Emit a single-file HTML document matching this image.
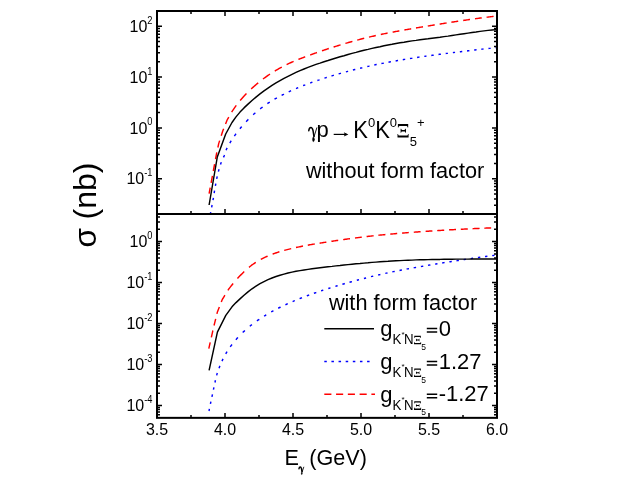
<!DOCTYPE html>
<html><head><meta charset="utf-8"><title>chart</title>
<style>html,body{margin:0;padding:0;background:#fff;}svg{display:block;will-change:transform;}text{font-family:"Liberation Sans",sans-serif;fill:#000;}.s{font-family:"Liberation Serif",serif;}</style>
</head><body>
<svg width="623" height="485" viewBox="0 0 623 485">
<rect x="0" y="0" width="623" height="485" fill="#fff"/>
<defs><clipPath id="ct"><rect x="157" y="11" width="340" height="203"/></clipPath><clipPath id="cb"><rect x="157" y="214" width="340" height="204"/></clipPath></defs>
<g fill="none" stroke-width="1.45" stroke-linejoin="round" clip-path="url(#ct)">
<path d="M209.10 221.00L209.28 220.01L209.43 219.22M210.30 214.48L210.48 213.49L210.66 212.50L210.74 212.10M211.65 207.37L211.84 206.38L212.02 205.39L212.10 205.00M212.99 200.20L213.18 199.20L213.36 198.20L213.43 197.80M214.16 193.07L214.32 192.08L214.47 191.10L214.54 190.70M215.38 185.97L215.56 184.99L215.74 184.00L215.81 183.60M216.70 178.80L216.89 177.80L217.10 176.81L217.20 176.41M218.40 171.68L218.65 170.69L218.92 169.71L219.04 169.31M220.51 164.58L220.82 163.59L221.18 162.60L221.35 162.20M223.48 157.40L223.92 156.40L224.31 155.41L224.45 155.01M226.11 150.28L226.46 149.29L226.92 148.32L227.14 147.93M229.84 143.06L230.38 142.09L230.99 141.12L231.25 140.73M234.39 136.06L235.04 135.08L235.76 134.10L236.07 133.71M239.93 128.78L240.70 127.80L241.58 126.81L241.75 126.62M246.15 121.70L247.02 120.72L247.98 119.77L248.37 119.39M253.22 114.71L254.20 113.80L255.20 112.97L255.40 112.81M260.20 108.85L261.20 108.02L262.20 107.32L262.60 107.04M267.40 103.66L268.40 102.96L269.39 102.35L269.78 102.11M274.51 99.22L275.50 98.61L276.49 98.08L276.88 97.87M281.61 95.31L282.60 94.77L283.59 94.30L283.98 94.10M288.71 91.81L289.70 91.34L290.68 90.90L291.08 90.73M296.01 88.55L296.99 88.13L297.98 87.74L298.18 87.66M303.11 85.67L304.10 85.27L305.08 84.91L305.28 84.83M310.21 82.99L311.20 82.63L312.20 82.28L312.40 82.21M317.40 80.48L318.40 80.13L319.37 79.82L319.57 79.75M324.44 78.17L325.41 77.86L326.39 77.55L326.79 77.43M331.52 75.98L332.51 75.68L333.49 75.39L333.89 75.27M338.62 73.90L339.61 73.61L340.59 73.33L340.98 73.22M345.91 71.86L346.90 71.59L347.90 71.34L348.10 71.29M352.90 70.06L353.90 69.80L354.90 69.54L355.30 69.44M360.10 68.21L361.10 67.97L362.10 67.75L362.30 67.70M367.30 66.57L368.30 66.35L369.30 66.12L369.50 66.08M374.30 64.99L375.29 64.78L376.28 64.58L376.67 64.51M381.41 63.58L382.39 63.38L383.38 63.19L383.77 63.11M388.51 62.18L389.50 61.99L390.49 61.82L390.89 61.75M395.65 60.92L396.65 60.75L397.64 60.58L398.04 60.51M402.80 59.68L403.80 59.52L404.79 59.36L405.19 59.30M409.95 58.56L410.95 58.40L411.94 58.25L412.34 58.18M417.10 57.44L418.10 57.29L419.10 57.15L419.50 57.09M424.30 56.39L425.30 56.25L426.30 56.12L426.50 56.09M431.30 55.44L432.30 55.31L433.30 55.17L433.70 55.12M438.50 54.47L439.50 54.34L440.50 54.20L440.90 54.15M445.70 53.50L446.70 53.38L447.69 53.26L447.89 53.23M452.87 52.63L453.87 52.51L454.86 52.39L455.06 52.36M459.84 51.78L460.84 51.66L461.84 51.54L462.24 51.49M467.02 50.91L468.01 50.79L469.01 50.66L469.41 50.62M474.18 50.06L475.17 49.95L476.16 49.84L476.56 49.80M481.32 49.26L482.31 49.15L483.31 49.04L483.51 49.02M488.47 48.46L489.46 48.35L490.45 48.24L490.65 48.21M495.61 47.66L496.60 47.55L497.00 47.50" stroke="#00f"/>
<path d="M209.10 193.60L209.29 192.60L209.47 191.60L209.66 190.60L209.85 189.60L210.03 188.60L210.22 187.60M211.12 182.80L211.31 181.80L211.49 180.80L211.68 179.80L211.87 178.80L212.05 177.80L212.24 176.80L212.43 175.80M213.32 171.00L213.51 170.00L213.70 169.00L213.88 168.00L214.07 167.00L214.26 166.00L214.45 165.00L214.59 164.20M215.53 159.20L215.72 158.20L215.90 157.20L216.09 156.20L216.28 155.20L216.46 154.20L216.65 153.20L216.80 152.40M217.86 147.51L218.07 146.53L218.28 145.56L218.49 144.58L218.70 143.60L219.02 142.61L219.33 141.62L219.65 140.62M221.24 135.66L221.56 134.67L221.87 133.68L222.19 132.69L222.51 131.70L222.86 130.70L223.26 129.71L223.65 128.72M225.56 123.96L225.95 122.97L226.35 121.98L226.74 120.99L227.14 120.00L227.64 119.01L228.22 118.02L228.79 117.03M231.66 112.07L232.28 111.08L232.97 110.09L233.66 109.10L234.34 108.11L235.03 107.12L235.72 106.13L236.31 105.34M240.17 100.42L241.04 99.43L241.91 98.43L242.78 97.44L243.65 96.44L244.57 95.46L245.52 94.47L246.48 93.49M251.20 88.89L252.20 87.95L253.20 87.08L254.20 86.20L255.20 85.33L256.20 84.46L257.20 83.64L258.20 82.82M263.00 79.05L264.00 78.28L265.00 77.57L266.00 76.86L267.00 76.14L268.00 75.43L269.00 74.76L270.00 74.10M274.80 71.04L275.80 70.42L276.80 69.84L277.80 69.26L278.80 68.69L279.80 68.12L280.80 67.58L281.80 67.04M286.60 64.59L287.60 64.10L288.60 63.63L289.60 63.18L290.60 62.72L291.60 62.27L292.60 61.83L293.60 61.41M298.40 59.42L299.40 59.02L300.40 58.63L301.40 58.24L302.40 57.86L303.40 57.47L304.40 57.09L305.20 56.80M310.20 54.95L311.20 54.59L312.20 54.22L313.20 53.87L314.20 53.51L315.20 53.16L316.20 52.81L317.00 52.53M322.00 50.81L323.00 50.47L324.00 50.13L325.00 49.80L326.00 49.47L327.00 49.14L328.00 48.81L328.80 48.55M333.60 47.02L334.60 46.70L335.60 46.39L336.60 46.08L337.60 45.77L338.60 45.46L339.60 45.16L340.60 44.85M345.40 43.42L346.40 43.13L347.40 42.84L348.40 42.55L349.40 42.27L350.40 41.98L351.40 41.70L352.40 41.42M357.20 40.11L358.20 39.84L359.20 39.58L360.20 39.31L361.20 39.06L362.20 38.80L363.20 38.54L364.20 38.29M369.00 37.11L370.00 36.88L371.00 36.64L372.00 36.40L373.00 36.18L374.00 35.95L375.00 35.72L375.80 35.54M380.80 34.46L381.80 34.25L382.80 34.04L383.80 33.84L384.80 33.63L385.80 33.43L386.80 33.24L387.60 33.08M392.60 32.11L393.60 31.93L394.60 31.74L395.60 31.56L396.60 31.37L397.60 31.19L398.60 31.01L399.40 30.86M404.40 29.97L405.40 29.80L406.40 29.63L407.40 29.45L408.40 29.28L409.40 29.11L410.40 28.93L411.20 28.80M416.00 27.98L417.00 27.81L418.00 27.64L419.00 27.47L420.00 27.30L421.00 27.14L422.00 26.97L423.00 26.80M427.80 26.01L428.80 25.84L429.80 25.68L430.80 25.52L431.80 25.35L432.80 25.19L433.80 25.03L434.80 24.87M439.60 24.10L440.60 23.94L441.60 23.78L442.60 23.62L443.60 23.46L444.60 23.30L445.60 23.15L446.60 22.99M451.40 22.24L452.40 22.09L453.40 21.93L454.40 21.78L455.40 21.63L456.40 21.47L457.40 21.32L458.20 21.20M463.20 20.46L464.20 20.31L465.20 20.16L466.20 20.02L467.20 19.87L468.20 19.73L469.20 19.59L470.00 19.47M475.00 18.77L476.00 18.63L477.00 18.50L478.00 18.36L479.00 18.23L480.00 18.09L481.00 17.96L481.80 17.85M486.60 17.23L487.60 17.10L488.60 16.98L489.60 16.85L490.60 16.73L491.60 16.61L492.60 16.48L493.60 16.36" stroke="#f00"/>
<polyline points="209.1,205.0 217.3,157.0 225.7,134.0 232.0,122.5 236.0,116.9 240.0,112.1 244.0,107.9 248.0,104.1 252.0,100.5 256.0,97.1 260.0,93.9 264.0,90.9 268.0,88.1 272.0,85.4 276.0,82.9 280.0,80.6 284.0,78.3 288.0,76.3 292.0,74.3 296.0,72.4 300.0,70.6 304.0,69.0 308.0,67.4 312.0,65.9 316.0,64.4 320.0,63.1 324.0,61.7 328.0,60.5 332.0,59.2 336.0,58.0 340.0,56.8 344.0,55.7 348.0,54.5 352.0,53.4 356.0,52.4 360.0,51.3 364.0,50.3 368.0,49.4 372.0,48.4 376.0,47.5 380.0,46.7 384.0,45.8 388.0,45.0 392.0,44.3 396.0,43.5 400.0,42.8 404.0,42.2 408.0,41.5 412.0,40.9 416.0,40.4 420.0,39.8 424.0,39.3 428.0,38.8 432.0,38.2 436.0,37.7 440.0,37.2 444.0,36.6 448.0,36.1 452.0,35.5 456.0,34.9 460.0,34.3 464.0,33.7 468.0,33.1 472.0,32.5 476.0,32.0 480.0,31.4 484.0,30.9 488.0,30.4 492.0,30.0 496.0,29.6 497.0,29.5" stroke="#000"/>
</g>
<g fill="none" stroke-width="1.45" stroke-linejoin="round" clip-path="url(#cb)">
<path d="M209.00 411.00L209.17 410.11L209.34 409.20L209.42 408.80M210.44 403.80L210.64 402.80L210.84 401.80L210.89 401.60M211.92 396.80L212.14 395.80L212.36 394.80L212.44 394.40M213.44 389.67L213.65 388.68L213.86 387.70L213.94 387.30M214.97 382.50L215.19 381.50L215.40 380.50L215.45 380.30M216.66 375.37L216.91 374.39L217.17 373.40L217.31 373.01M219.03 368.28L219.39 367.29L219.77 366.30L219.94 365.90M222.01 361.10L222.44 360.10L222.92 359.10L223.03 358.90M225.74 353.90L226.28 352.90L226.90 351.90L227.04 351.70M230.26 346.90L230.93 345.90L231.68 344.91L232.01 344.52M235.87 339.82L236.68 338.84L237.57 337.85L237.95 337.46M242.73 332.53L243.69 331.60L244.68 330.74L244.88 330.57M249.81 326.29L250.80 325.45L251.78 324.72L251.98 324.57M256.91 320.90L257.90 320.19L258.90 319.54L259.30 319.28M264.10 316.14L265.09 315.52L266.08 314.94L266.28 314.83M271.21 311.96L272.20 311.40L273.20 310.87L273.40 310.77M278.20 308.25L279.20 307.73L280.20 307.25L280.60 307.06M285.40 304.76L286.40 304.28L287.37 303.85L287.76 303.68M292.63 301.54L293.60 301.11L294.60 300.70L294.80 300.62M299.60 298.66L300.60 298.25L301.60 297.87L302.00 297.71M306.80 295.88L307.80 295.50L308.79 295.14L309.18 295.00M313.92 293.30L314.91 292.95L315.90 292.60L316.30 292.47M321.10 290.84L322.10 290.51L323.10 290.18L323.30 290.11M328.30 288.51L329.30 288.19L330.29 287.88L330.49 287.82M335.42 286.32L336.41 286.01L337.40 285.72L337.60 285.66M342.40 284.26L343.40 283.97L344.39 283.68L344.79 283.57M349.52 282.25L350.51 281.98L351.49 281.70L351.89 281.60M356.82 280.28L357.80 280.01L358.79 279.75L358.99 279.70M363.92 278.43L364.90 278.18L365.89 277.93L366.09 277.88M371.01 276.66L372.00 276.42L373.00 276.18L373.20 276.13M378.20 274.96L379.20 274.72L380.19 274.50L380.39 274.45M385.32 273.35L386.30 273.13L387.30 272.92L387.50 272.88M392.30 271.87L393.30 271.66L394.30 271.46L394.70 271.38M399.50 270.43L400.50 270.23L401.49 270.04L401.89 269.96M406.62 269.07L407.61 268.89L408.59 268.71L408.98 268.64M413.71 267.78L414.70 267.61L415.70 267.43L416.10 267.36M420.90 266.53L421.89 266.35L422.88 266.19L423.27 266.12M428.01 265.31L428.99 265.15L429.98 264.98L430.37 264.92M435.11 264.13L436.09 263.97L437.08 263.81L437.47 263.74M442.21 262.97L443.20 262.81L444.20 262.65L444.60 262.59M449.40 261.83L450.39 261.67L451.38 261.52L451.78 261.46M456.51 260.72L457.50 260.57L458.48 260.42L458.88 260.36M463.61 259.65L464.60 259.50L465.58 259.36L465.98 259.30M470.71 258.60L471.70 258.46L472.70 258.32L473.10 258.26M477.90 257.58L478.90 257.44L479.88 257.30L480.28 257.24M485.01 256.59L486.00 256.45L487.00 256.32L487.40 256.27M492.20 255.62L493.20 255.49L494.15 255.36L494.53 255.32" stroke="#00f"/>
<path d="M208.80 348.70L209.02 347.70L209.25 346.70L209.47 345.70L209.70 344.70L209.92 343.70L210.14 342.70L210.23 342.30M211.35 337.30L211.58 336.30L211.80 335.30L212.02 334.30L212.25 333.30L212.47 332.30L212.69 331.30L212.87 330.50M214.04 325.53L214.28 324.54L214.52 323.55L214.77 322.56L215.01 321.58L215.25 320.59L215.50 319.60L215.69 318.81M216.91 313.88L217.16 312.89L217.40 311.90L217.79 310.91L218.18 309.92L218.57 308.92L218.96 307.93L219.34 306.94M221.29 301.98L221.68 300.99L222.07 300.00L222.54 299.00L223.15 298.01L223.76 297.02L224.37 296.03L224.86 295.24M227.91 290.29L228.55 289.31L229.30 288.34L230.05 287.38L230.80 286.41L231.55 285.45L232.33 284.47L233.17 283.48M237.45 278.54L238.36 277.55L239.27 276.57L240.19 275.58L241.14 274.62L242.10 273.66L243.05 272.71L244.00 271.75L244.20 271.56M249.00 267.32L250.00 266.53L251.00 265.73L252.00 264.94L253.00 264.26L254.00 263.58L255.00 262.89L255.80 262.35M260.80 259.43L261.80 258.91L262.80 258.39L263.80 257.87L264.80 257.41L265.80 256.95L266.80 256.49L267.60 256.13M272.60 254.12L273.60 253.75L274.60 253.39L275.60 253.03L276.60 252.70L277.60 252.37L278.60 252.05L279.40 251.79M284.20 250.38L285.20 250.12L286.20 249.85L287.20 249.59L288.20 249.33L289.20 249.08L290.20 248.84L291.20 248.60M296.00 247.51L297.00 247.30L298.00 247.09L299.00 246.88L300.00 246.67L301.00 246.47L302.00 246.28L303.00 246.08M307.80 245.18L308.80 245.00L309.80 244.82L310.80 244.65L311.80 244.47L312.80 244.30L313.80 244.13L314.80 243.96M319.60 243.17L320.60 243.01L321.60 242.85L322.60 242.69L323.60 242.53L324.60 242.37L325.60 242.22L326.40 242.10M331.40 241.33L332.40 241.18L333.40 241.03L334.40 240.88L335.40 240.73L336.40 240.59L337.40 240.44L338.20 240.32M343.20 239.60L344.20 239.46L345.20 239.32L346.20 239.18L347.20 239.04L348.20 238.90L349.20 238.77L350.00 238.66M355.00 237.99L356.00 237.86L357.00 237.73L358.00 237.61L359.00 237.48L360.00 237.35L361.00 237.23L361.80 237.13M366.60 236.56L367.60 236.44L368.60 236.32L369.60 236.21L370.60 236.10L371.60 235.99L372.60 235.87L373.60 235.77M378.40 235.26L379.40 235.15L380.40 235.05L381.40 234.95L382.40 234.86L383.40 234.76L384.40 234.66L385.40 234.57M390.20 234.12L391.20 234.03L392.20 233.94L393.20 233.85L394.20 233.77L395.20 233.68L396.20 233.59L397.20 233.51M402.00 233.11L403.00 233.03L404.00 232.95L405.00 232.87L406.00 232.79L407.00 232.71L408.00 232.64L408.80 232.58M413.80 232.20L414.80 232.12L415.80 232.05L416.80 231.98L417.80 231.91L418.80 231.83L419.80 231.76L420.60 231.71M425.60 231.36L426.60 231.29L427.60 231.22L428.60 231.16L429.60 231.09L430.60 231.03L431.60 230.96L432.40 230.91M437.20 230.60L438.20 230.54L439.20 230.48L440.20 230.42L441.20 230.36L442.20 230.30L443.20 230.24L444.20 230.18M449.00 229.90L450.00 229.84L451.00 229.79L452.00 229.73L453.00 229.68L454.00 229.62L455.00 229.57L456.00 229.51M460.80 229.26L461.80 229.21L462.80 229.16L463.80 229.11L464.80 229.06L465.80 229.01L466.80 228.96L467.80 228.91M472.60 228.68L473.60 228.63L474.60 228.59L475.60 228.54L476.60 228.50L477.60 228.45L478.60 228.41L479.60 228.36M484.40 228.16L485.40 228.12L486.40 228.08L487.40 228.04L488.40 228.00L489.40 227.96L490.40 227.92L491.20 227.88M496.20 227.69L497.00 227.66" stroke="#f00"/>
<polyline points="209.1,370.3 217.4,332.1 225.8,315.4 232.0,306.8 236.0,302.6 240.0,298.9 244.0,295.3 248.0,291.9 252.0,288.8 256.0,286.1 260.0,283.7 264.0,281.6 268.0,279.7 272.0,278.0 276.0,276.5 280.0,275.2 284.0,274.1 288.0,273.0 292.0,272.1 296.0,271.3 300.0,270.6 304.0,270.0 308.0,269.4 312.0,268.8 316.0,268.3 320.0,267.8 324.0,267.3 328.0,266.8 332.0,266.4 336.0,265.9 340.0,265.5 344.0,265.0 348.0,264.6 352.0,264.2 356.0,263.8 360.0,263.5 364.0,263.1 368.0,262.8 372.0,262.4 376.0,262.1 380.0,261.8 384.0,261.5 388.0,261.3 392.0,261.0 396.0,260.8 400.0,260.6 404.0,260.4 408.0,260.2 412.0,260.1 416.0,259.9 420.0,259.8 424.0,259.7 428.0,259.6 432.0,259.5 436.0,259.4 440.0,259.4 444.0,259.3 448.0,259.2 452.0,259.2 456.0,259.1 460.0,259.1 464.0,259.1 468.0,259.1 472.0,259.0 476.0,259.0 480.0,259.0 484.0,259.0 488.0,259.0 492.0,259.0 496.0,259.0 497.0,259.0" stroke="#000"/>
</g>
<path d="M157.0 11.0v5.0M157.0 214.0v-5.0M157.0 418.0v-5.0M191.0 11.0v3.0M191.0 214.0v-3.0M191.0 418.0v-3.0M225.0 11.0v5.0M225.0 214.0v-5.0M225.0 418.0v-5.0M259.0 11.0v3.0M259.0 214.0v-3.0M259.0 418.0v-3.0M293.0 11.0v5.0M293.0 214.0v-5.0M293.0 418.0v-5.0M327.0 11.0v3.0M327.0 214.0v-3.0M327.0 418.0v-3.0M361.0 11.0v5.0M361.0 214.0v-5.0M361.0 418.0v-5.0M395.0 11.0v3.0M395.0 214.0v-3.0M395.0 418.0v-3.0M429.0 11.0v5.0M429.0 214.0v-5.0M429.0 418.0v-5.0M463.0 11.0v3.0M463.0 214.0v-3.0M463.0 418.0v-3.0M497.0 11.0v5.0M497.0 214.0v-5.0M497.0 418.0v-5.0M157.0 214.21h3.0M497.0 214.21h-3.0M157.0 205.26h3.0M497.0 205.26h-3.0M157.0 198.92h3.0M497.0 198.92h-3.0M157.0 193.99h3.0M497.0 193.99h-3.0M157.0 189.97h3.0M497.0 189.97h-3.0M157.0 186.57h3.0M497.0 186.57h-3.0M157.0 183.62h3.0M497.0 183.62h-3.0M157.0 181.02h3.0M497.0 181.02h-3.0M157.0 178.70h5.0M497.0 178.70h-5.0M157.0 163.41h3.0M497.0 163.41h-3.0M157.0 154.46h3.0M497.0 154.46h-3.0M157.0 148.12h3.0M497.0 148.12h-3.0M157.0 143.19h3.0M497.0 143.19h-3.0M157.0 139.17h3.0M497.0 139.17h-3.0M157.0 135.77h3.0M497.0 135.77h-3.0M157.0 132.82h3.0M497.0 132.82h-3.0M157.0 130.22h3.0M497.0 130.22h-3.0M157.0 127.90h5.0M497.0 127.90h-5.0M157.0 112.61h3.0M497.0 112.61h-3.0M157.0 103.66h3.0M497.0 103.66h-3.0M157.0 97.32h3.0M497.0 97.32h-3.0M157.0 92.39h3.0M497.0 92.39h-3.0M157.0 88.37h3.0M497.0 88.37h-3.0M157.0 84.97h3.0M497.0 84.97h-3.0M157.0 82.02h3.0M497.0 82.02h-3.0M157.0 79.42h3.0M497.0 79.42h-3.0M157.0 77.10h5.0M497.0 77.10h-5.0M157.0 61.81h3.0M497.0 61.81h-3.0M157.0 52.86h3.0M497.0 52.86h-3.0M157.0 46.52h3.0M497.0 46.52h-3.0M157.0 41.59h3.0M497.0 41.59h-3.0M157.0 37.57h3.0M497.0 37.57h-3.0M157.0 34.17h3.0M497.0 34.17h-3.0M157.0 31.22h3.0M497.0 31.22h-3.0M157.0 28.62h3.0M497.0 28.62h-3.0M157.0 26.30h5.0M497.0 26.30h-5.0M157.0 11.01h3.0M497.0 11.01h-3.0M157.0 414.70h3.0M497.0 414.70h-3.0M157.0 411.95h3.0M497.0 411.95h-3.0M157.0 409.57h3.0M497.0 409.57h-3.0M157.0 407.48h3.0M497.0 407.48h-3.0M157.0 405.60h5.0M497.0 405.60h-5.0M157.0 393.26h3.0M497.0 393.26h-3.0M157.0 386.04h3.0M497.0 386.04h-3.0M157.0 380.92h3.0M497.0 380.92h-3.0M157.0 376.94h3.0M497.0 376.94h-3.0M157.0 373.70h3.0M497.0 373.70h-3.0M157.0 370.95h3.0M497.0 370.95h-3.0M157.0 368.57h3.0M497.0 368.57h-3.0M157.0 366.48h3.0M497.0 366.48h-3.0M157.0 364.60h5.0M497.0 364.60h-5.0M157.0 352.26h3.0M497.0 352.26h-3.0M157.0 345.04h3.0M497.0 345.04h-3.0M157.0 339.92h3.0M497.0 339.92h-3.0M157.0 335.94h3.0M497.0 335.94h-3.0M157.0 332.70h3.0M497.0 332.70h-3.0M157.0 329.95h3.0M497.0 329.95h-3.0M157.0 327.57h3.0M497.0 327.57h-3.0M157.0 325.48h3.0M497.0 325.48h-3.0M157.0 323.60h5.0M497.0 323.60h-5.0M157.0 311.26h3.0M497.0 311.26h-3.0M157.0 304.04h3.0M497.0 304.04h-3.0M157.0 298.92h3.0M497.0 298.92h-3.0M157.0 294.94h3.0M497.0 294.94h-3.0M157.0 291.70h3.0M497.0 291.70h-3.0M157.0 288.95h3.0M497.0 288.95h-3.0M157.0 286.57h3.0M497.0 286.57h-3.0M157.0 284.48h3.0M497.0 284.48h-3.0M157.0 282.60h5.0M497.0 282.60h-5.0M157.0 270.26h3.0M497.0 270.26h-3.0M157.0 263.04h3.0M497.0 263.04h-3.0M157.0 257.92h3.0M497.0 257.92h-3.0M157.0 253.94h3.0M497.0 253.94h-3.0M157.0 250.70h3.0M497.0 250.70h-3.0M157.0 247.95h3.0M497.0 247.95h-3.0M157.0 245.57h3.0M497.0 245.57h-3.0M157.0 243.48h3.0M497.0 243.48h-3.0M157.0 241.60h5.0M497.0 241.60h-5.0M157.0 229.26h3.0M497.0 229.26h-3.0M157.0 222.04h3.0M497.0 222.04h-3.0M157.0 216.92h3.0M497.0 216.92h-3.0" stroke="#000" stroke-width="1.5" fill="none"/>
<g stroke="#000" stroke-width="2" fill="none"><rect x="157" y="11" width="340" height="406.85"/><line x1="156" y1="214.1" x2="498" y2="214.1"/></g>
<text x="147.33" y="32.00" font-size="16" text-anchor="end">10</text>
<text transform="translate(147.33,23.70) scale(0.93,1.12)" font-size="10">2</text>
<text x="147.33" y="82.80" font-size="16" text-anchor="end">10</text>
<text transform="translate(147.33,74.50) scale(0.93,1.12)" font-size="10">1</text>
<text x="147.33" y="133.60" font-size="16" text-anchor="end">10</text>
<text transform="translate(147.33,125.30) scale(0.93,1.12)" font-size="10">0</text>
<text x="144.23" y="184.40" font-size="16" text-anchor="end">10</text>
<text transform="translate(144.23,176.10) scale(0.93,1.12)" font-size="10">-1</text>
<text x="147.33" y="247.30" font-size="16" text-anchor="end">10</text>
<text transform="translate(147.33,239.00) scale(0.93,1.12)" font-size="10">0</text>
<text x="144.23" y="288.30" font-size="16" text-anchor="end">10</text>
<text transform="translate(144.23,280.00) scale(0.93,1.12)" font-size="10">-1</text>
<text x="144.23" y="329.30" font-size="16" text-anchor="end">10</text>
<text transform="translate(144.23,321.00) scale(0.93,1.12)" font-size="10">-2</text>
<text x="144.23" y="370.30" font-size="16" text-anchor="end">10</text>
<text transform="translate(144.23,362.00) scale(0.93,1.12)" font-size="10">-3</text>
<text x="144.23" y="411.20" font-size="16" text-anchor="end">10</text>
<text transform="translate(144.23,402.90) scale(0.93,1.12)" font-size="10">-4</text>
<text transform="translate(157.00,435.10) scale(1.0,1.03)" font-size="16" text-anchor="middle">3.5</text>
<text transform="translate(225.00,435.10) scale(1.0,1.03)" font-size="16" text-anchor="middle">4.0</text>
<text transform="translate(293.00,435.10) scale(1.0,1.03)" font-size="16" text-anchor="middle">4.5</text>
<text transform="translate(361.00,435.10) scale(1.0,1.03)" font-size="16" text-anchor="middle">5.0</text>
<text transform="translate(429.00,435.10) scale(1.0,1.03)" font-size="16" text-anchor="middle">5.5</text>
<text transform="translate(497.00,435.10) scale(1.0,1.03)" font-size="16" text-anchor="middle">6.0</text>
<text transform="translate(284.60,464.50) scale(1.0,1.06)" font-size="21.6">E</text>
<g transform="translate(298.70,472.40) scale(0.58,0.54)" stroke="#000" fill="none" stroke-linecap="round">
<path d="M0.5 -6.7C0.7 -8.9 1.6 -10 2.7 -10C3.9 -10 4.4 -8.6 4.8 -7L5.8 -0.9" stroke-width="2.55"/>
<path d="M8.7 -9.7L5.9 -0.9" stroke-width="1.50"/>
<ellipse cx="5.25" cy="1.9" rx="1.0" ry="2.3" fill="#000" stroke-width="0.3"/>
</g>
<text transform="translate(309.30,464.50) scale(1.0,1.06)" font-size="21.6">(GeV)</text>
<text transform="translate(95.8,247.6) rotate(-90)" font-size="32"><tspan font-size="31.5">σ</tspan><tspan dx="-0.2"> (nb)</tspan></text>
<g transform="translate(308.30,137.50) scale(0.98,1)" stroke="#000" fill="none" stroke-linecap="round">
<path d="M0.5 -6.7C0.7 -8.9 1.6 -10 2.7 -10C3.9 -10 4.4 -8.6 4.8 -7L5.8 -0.9" stroke-width="1.53"/>
<path d="M8.7 -9.7L5.9 -0.9" stroke-width="0.90"/>
<ellipse cx="5.25" cy="1.9" rx="1.0" ry="2.3" fill="#000" stroke-width="0.3"/>
</g>
<text x="316.60" y="137.10" font-size="22">p</text>
<path d="M333.7 134.4H346.5" stroke="#000" stroke-width="1.2" fill="none"/><path d="M348.4 134.4L343.8 132.2L344.8 134.4L343.8 136.6Z" fill="#000"/>
<text transform="translate(353.20,137.60) scale(1.0,1.06)" font-size="22">K</text>
<text x="368.00" y="127.00" font-size="13">0</text>
<text transform="translate(375.30,137.60) scale(1.0,1.06)" font-size="22">K</text>
<text x="389.80" y="127.00" font-size="13">0</text>
<g transform="translate(397.50,124.10) scale(1.0)" fill="#000" stroke="none">
<path d="M0.4 0H10.7V3.4H10.1C10 2.4 9.6 1.9 8.6 1.9H2.5C1.5 1.9 1.1 2.4 1 3.4H0.4Z"/>
<path d="M3.1 4.7H3.7C3.8 5.5 4.1 5.8 4.9 5.8H6.7C7.5 5.8 7.8 5.5 7.9 4.7H8.5V8.6H7.9C7.8 7.8 7.5 7.5 6.7 7.5H4.9C4.1 7.5 3.8 7.8 3.7 8.6H3.1Z"/>
<path d="M0 13.4H11.1V9.8H10.5C10.4 10.9 10 11.4 9 11.4H2.1C1.1 11.4 0.7 10.9 0.6 9.8H0Z"/>
</g>
<text x="409.70" y="146.00" font-size="13">5</text>
<text x="417.00" y="127.00" font-size="13">+</text>
<text x="305.9" y="177.6" font-size="21.7">without form factor</text>
<text x="328.9" y="310.0" font-size="21.7">with form factor</text>
<line x1="324.3" y1="328.7" x2="374.0" y2="328.7" stroke="#000" stroke-width="1.45"/>
<text x="380.30" y="336.10" font-size="22">g</text>
<text transform="translate(392.40,344.30) scale(1.0,1.09)" font-size="13.3">K</text>
<text x="401.60" y="336.50" font-size="8">*</text>
<text transform="translate(404.00,344.30) scale(1.0,1.09)" font-size="13.3">N</text>
<g transform="translate(414.00,335.70) scale(0.64)" fill="#000" stroke="none">
<path d="M0.4 0H10.7V3.4H10.1C10 2.4 9.6 1.9 8.6 1.9H2.5C1.5 1.9 1.1 2.4 1 3.4H0.4Z"/>
<path d="M3.1 4.7H3.7C3.8 5.5 4.1 5.8 4.9 5.8H6.7C7.5 5.8 7.8 5.5 7.9 4.7H8.5V8.6H7.9C7.8 7.8 7.5 7.5 6.7 7.5H4.9C4.1 7.5 3.8 7.8 3.7 8.6H3.1Z"/>
<path d="M0 13.4H11.1V9.8H10.5C10.4 10.9 10 11.4 9 11.4H2.1C1.1 11.4 0.7 10.9 0.6 9.8H0Z"/>
</g>
<text x="421.20" y="349.80" font-size="8.5">5</text>
<path d="M426.8 328.60H437.2M426.8 332.10H437.2" stroke="#000" stroke-width="1.5" fill="none"/>
<text transform="translate(438.65,335.70) scale(1.0,1.03)" font-size="22">0</text>
<line x1="324.3" y1="361.5" x2="370.0" y2="361.5" stroke="#00f" stroke-width="1.45" stroke-dasharray="2.5 4.63"/>
<text x="380.30" y="368.90" font-size="22">g</text>
<text transform="translate(392.40,377.10) scale(1.0,1.09)" font-size="13.3">K</text>
<text x="401.60" y="369.30" font-size="8">*</text>
<text transform="translate(404.00,377.10) scale(1.0,1.09)" font-size="13.3">N</text>
<g transform="translate(414.00,368.50) scale(0.64)" fill="#000" stroke="none">
<path d="M0.4 0H10.7V3.4H10.1C10 2.4 9.6 1.9 8.6 1.9H2.5C1.5 1.9 1.1 2.4 1 3.4H0.4Z"/>
<path d="M3.1 4.7H3.7C3.8 5.5 4.1 5.8 4.9 5.8H6.7C7.5 5.8 7.8 5.5 7.9 4.7H8.5V8.6H7.9C7.8 7.8 7.5 7.5 6.7 7.5H4.9C4.1 7.5 3.8 7.8 3.7 8.6H3.1Z"/>
<path d="M0 13.4H11.1V9.8H10.5C10.4 10.9 10 11.4 9 11.4H2.1C1.1 11.4 0.7 10.9 0.6 9.8H0Z"/>
</g>
<text x="421.20" y="382.60" font-size="8.5">5</text>
<path d="M426.8 361.40H437.2M426.8 364.90H437.2" stroke="#000" stroke-width="1.5" fill="none"/>
<text transform="translate(438.65,368.50) scale(1.0,1.03)" font-size="22">1.27</text>
<line x1="324.3" y1="394.3" x2="375.0" y2="394.3" stroke="#f00" stroke-width="1.45" stroke-dasharray="7.1 4.67"/>
<text x="380.30" y="401.70" font-size="22">g</text>
<text transform="translate(392.40,409.90) scale(1.0,1.09)" font-size="13.3">K</text>
<text x="401.60" y="402.10" font-size="8">*</text>
<text transform="translate(404.00,409.90) scale(1.0,1.09)" font-size="13.3">N</text>
<g transform="translate(414.00,401.30) scale(0.64)" fill="#000" stroke="none">
<path d="M0.4 0H10.7V3.4H10.1C10 2.4 9.6 1.9 8.6 1.9H2.5C1.5 1.9 1.1 2.4 1 3.4H0.4Z"/>
<path d="M3.1 4.7H3.7C3.8 5.5 4.1 5.8 4.9 5.8H6.7C7.5 5.8 7.8 5.5 7.9 4.7H8.5V8.6H7.9C7.8 7.8 7.5 7.5 6.7 7.5H4.9C4.1 7.5 3.8 7.8 3.7 8.6H3.1Z"/>
<path d="M0 13.4H11.1V9.8H10.5C10.4 10.9 10 11.4 9 11.4H2.1C1.1 11.4 0.7 10.9 0.6 9.8H0Z"/>
</g>
<text x="421.20" y="415.40" font-size="8.5">5</text>
<path d="M426.8 394.20H437.2M426.8 397.70H437.2" stroke="#000" stroke-width="1.5" fill="none"/>
<text transform="translate(438.65,401.30) scale(1.0,1.03)" font-size="22">-1.27</text>
</svg></body></html>
